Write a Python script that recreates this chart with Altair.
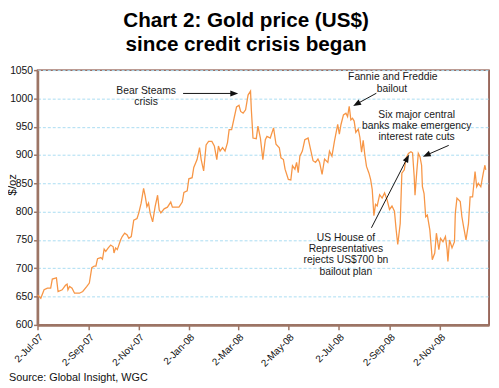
import altair as alt
import pandas as pd

# ---- data ----
dates = [
    "2007-07-02", "2007-07-06", "2007-07-10", "2007-07-14", "2007-07-18", "2007-07-20", "2007-07-25", "2007-07-27",
    "2007-08-01", "2007-08-05", "2007-08-07", "2007-08-08", "2007-08-10", "2007-08-13", "2007-08-16", "2007-08-22",
    "2007-08-26", "2007-08-31", "2007-09-03", "2007-09-06", "2007-09-09", "2007-09-11", "2007-09-13", "2007-09-17",
    "2007-09-19", "2007-09-21", "2007-09-23", "2007-09-26", "2007-09-29", "2007-10-02", "2007-10-03", "2007-10-05",
    "2007-10-07", "2007-10-11", "2007-10-13", "2007-10-16", "2007-10-19", "2007-10-21", "2007-10-24", "2007-10-27",
    "2007-10-31", "2007-11-02", "2007-11-05", "2007-11-08", "2007-11-10", "2007-11-12", "2007-11-14", "2007-11-16",
    "2007-11-19", "2007-11-22", "2007-11-25", "2007-11-27", "2007-11-29", "2007-12-03", "2007-12-07", "2007-12-11",
    "2007-12-13", "2007-12-17", "2007-12-21", "2007-12-25", "2007-12-27", "2007-12-31", "2008-01-02", "2008-01-06",
    "2008-01-08", "2008-01-12", "2008-01-15", "2008-01-17", "2008-01-20", "2008-01-23", "2008-01-26", "2008-01-30",
    "2008-02-02", "2008-02-05", "2008-02-07", "2008-02-09", "2008-02-12", "2008-02-15", "2008-02-18", "2008-02-20",
    "2008-02-23", "2008-02-26", "2008-02-29", "2008-03-03", "2008-03-05", "2008-03-08", "2008-03-11", "2008-03-14",
    "2008-03-17", "2008-03-18", "2008-03-20", "2008-03-24", "2008-03-26", "2008-03-29", "2008-04-01", "2008-04-04",
    "2008-04-06", "2008-04-10", "2008-04-14", "2008-04-17", "2008-04-21", "2008-04-23", "2008-04-26", "2008-04-28",
    "2008-05-02", "2008-05-05", "2008-05-07", "2008-05-10", "2008-05-12", "2008-05-14", "2008-05-16", "2008-05-19",
    "2008-05-22", "2008-05-26", "2008-05-29", "2008-06-01", "2008-06-04", "2008-06-07", "2008-06-09", "2008-06-12",
    "2008-06-15", "2008-06-19", "2008-06-21", "2008-06-24", "2008-06-27", "2008-07-01", "2008-07-03", "2008-07-05",
    "2008-07-08", "2008-07-11", "2008-07-13", "2008-07-15", "2008-07-17", "2008-07-19", "2008-07-21", "2008-07-23",
    "2008-07-26", "2008-07-28", "2008-07-30", "2008-08-01", "2008-08-03", "2008-08-05", "2008-08-08", "2008-08-10",
    "2008-08-12", "2008-08-14", "2008-08-16", "2008-08-18", "2008-08-21", "2008-08-24", "2008-08-27", "2008-08-30",
    "2008-09-02", "2008-09-05", "2008-09-08", "2008-09-10", "2008-09-12", "2008-09-15", "2008-09-17", "2008-09-20",
    "2008-09-22", "2008-09-25", "2008-09-28", "2008-09-30", "2008-10-02", "2008-10-03", "2008-10-05", "2008-10-07",
    "2008-10-09", "2008-10-11", "2008-10-12", "2008-10-14", "2008-10-16", "2008-10-18", "2008-10-21", "2008-10-24",
    "2008-10-27", "2008-10-29", "2008-11-01", "2008-11-03", "2008-11-06", "2008-11-09", "2008-11-11", "2008-11-12",
    "2008-11-14", "2008-11-17", "2008-11-20", "2008-11-21", "2008-11-23", "2008-11-27", "2008-11-29", "2008-12-01",
    "2008-12-04", "2008-12-07", "2008-12-09", "2008-12-12", "2008-12-15", "2008-12-17", "2008-12-19", "2008-12-22",
    "2008-12-25", "2008-12-27", "2008-12-28",
]
prices = [
    653, 647, 662, 665, 665, 681, 683, 659,
    662, 670, 672, 662, 668, 665, 656, 656,
    659, 668, 674, 701, 704, 704, 717, 719,
    716, 734, 730, 736, 741, 738, 727, 736,
    733, 750, 756, 762, 759, 753, 756, 785,
    788, 797, 815, 841, 827, 809, 815, 797,
    782, 809, 829, 803, 798, 805, 808, 817,
    808, 808, 808, 817, 834, 837, 858, 860,
    878, 892, 913, 892, 872, 918, 924, 924,
    916, 892, 916, 907, 913, 907, 922, 945,
    945, 965, 985, 988, 977, 974, 980, 1006,
    1013, 980, 930, 929, 951, 930, 892, 927,
    933, 930, 948, 919, 913, 895, 892, 875,
    857, 856, 881, 875, 887, 869, 898, 907,
    927, 930, 910, 890, 887, 893, 887, 866,
    893, 887, 907, 898, 924, 954, 937, 954,
    971, 974, 968, 986, 962, 965, 960, 940,
    946, 931, 905, 926, 900, 880, 868, 857,
    839, 793, 813, 810, 830, 824, 833, 821,
    804, 810, 801, 769, 742, 779, 868, 874,
    894, 903, 906, 904, 862, 829, 868, 903,
    897, 882, 844, 832, 791, 794, 768, 715,
    727, 762, 733, 753, 747, 756, 733, 712,
    750, 736, 747, 797, 824, 818, 791, 774,
    750, 779, 826, 826, 871, 844, 850, 844,
    868, 882, 874,
]

y_ticks = [600, 650, 700, 750, 800, 850, 900, 950, 1000, 1050]
x_tick_dates = [(2007, 7), (2007, 9), (2007, 11), (2008, 1), (2008, 3), (2008, 5), (2008, 7), (2008, 9), (2008, 11)]

title_lines = ["Chart 2: Gold price (US$)", "since credit crisis began"]
source_text = "Source: Global Insight, WGC"
y_title = "$/oz"

# annotation texts (one row per line) anchored in data space
note_text = ["Bear Steams", "crisis",
             "Fannie and Freddie", "bailout",
             "Six major central", "banks make emergency", "interest rate cuts",
             "US House of", "Representatives", "rejects US$700 bn", "bailout plan"]
note_date = ["2007-11-11", "2007-11-11",
             "2008-09-06", "2008-09-05",
             "2008-10-05", "2008-10-05", "2008-10-05",
             "2008-07-11", "2008-07-11", "2008-07-11", "2008-07-11"]
note_val = [1008.3, 988.3,
            1031.8, 1011.8,
            965.7, 945.8, 925.8,
            748.6, 728.6, 708.6, 688.6]

# arrows: start -> head
arr_d0 = ["2007-12-26", "2008-08-17", "2008-11-13", "2008-08-11"]
arr_v0 = [1008.8, 1009.2, 917.1, 771.5]
arr_d1 = ["2008-02-25", "2008-07-25", "2008-10-18", "2008-09-23"]
arr_v1 = [1008.8, 990.9, 900.6, 893.0]
arr_ang = [90, 240, 246, 27]

# ---- tables ----
df = pd.DataFrame({"date": pd.to_datetime(dates), "price": prices})
notes = pd.DataFrame({"text": note_text, "date": pd.to_datetime(note_date), "price": note_val})
arrows = pd.DataFrame({"date": pd.to_datetime(arr_d0), "price": arr_v0,
                       "date2": pd.to_datetime(arr_d1), "price2": arr_v1, "ang": arr_ang})
heads_df = pd.DataFrame({"date": pd.to_datetime(arr_d1), "price": arr_v1, "ang": arr_ang})

FONT = "Liberation Sans"
AXIS_COL = "#9c7565"

x_scale = alt.Scale(domain=[alt.DateTime(year=2007, month=7, date=2),
                            alt.DateTime(year=2009, month=1, date=1)], nice=False)
y_scale = alt.Scale(domain=[600, 1050], nice=False, zero=False)

x_axis = alt.Axis(
    values=[alt.DateTime(year=y, month=m, date=2) for y, m in x_tick_dates],
    format="%-d-%b-%y", labelAngle=315, labelAlign="right", labelBaseline="top",
    labelFontSize=10, labelFont=FONT, labelColor="#111", labelPadding=2,
    labelFlush=False, labelOverlap=False, labelBound=False,
    tickSize=5, tickColor=AXIS_COL, tickWidth=1.5,
    domainColor=AXIS_COL, domainWidth=2.5, grid=False, title=None,
)
y_axis = alt.Axis(
    values=y_ticks, tickCount=10, format="d", grid=True, gridColor="#a9dcf2", gridDash=[3, 2], gridWidth=1,
    tickSize=4, tickColor=AXIS_COL, tickWidth=1.5, labelPadding=1,
    labelFontSize=10.5, labelFont=FONT, labelColor="#111",
    labelOverlap=False, labelFlush=False, labelBound=False,
    domainColor=AXIS_COL, domainWidth=2.5, title=None,
)


def X():
    return alt.X("date:T", scale=x_scale, axis=x_axis)


def Y():
    return alt.Y("price:Q", scale=y_scale, axis=y_axis)


line = alt.Chart(df).mark_line(color="#f79646", strokeWidth=1.3).encode(x=X(), y=Y())

note_layer = alt.Chart(notes).mark_text(
    font=FONT, fontSize=10.5, color="#1a1a1a", align="center", baseline="alphabetic"
).encode(x=X(), y=Y(), text="text:N")

rules = alt.Chart(arrows).mark_rule(color="#111", strokeWidth=1).encode(
    x=X(), y=Y(), x2="date2:T", y2="price2:Q")

heads = alt.Chart(heads_df).mark_point(
    shape="M0,-1L0.6,0.6L-0.6,0.6Z", filled=True, size=100, color="#111", opacity=1
).encode(x=X(), y=Y(), angle=alt.Angle("ang:Q", scale=None))

t1 = alt.Chart(pd.DataFrame({"t": [title_lines[0]]})).mark_text(
    font=FONT, fontSize=21, fontWeight="bold", color="#000", align="center", baseline="alphabetic"
).encode(x=alt.value(212), y=alt.value(-43.5), text="t:N")
t2 = alt.Chart(pd.DataFrame({"t": [title_lines[1]]})).mark_text(
    font=FONT, fontSize=21, fontWeight="bold", color="#000", align="center", baseline="alphabetic"
).encode(x=alt.value(212), y=alt.value(-19.5), text="t:N")

src = alt.Chart(pd.DataFrame({"t": [source_text]})).mark_text(
    font=FONT, fontSize=11, color="#111", align="left", baseline="alphabetic"
).encode(x=alt.value(-29), y=alt.value(316.5), text="t:N")

ytitle = alt.Chart(pd.DataFrame({"t": [y_title]})).mark_text(
    font=FONT, fontSize=11.5, color="#111", align="center", baseline="alphabetic", angle=270
).encode(x=alt.value(-21.7), y=alt.value(116.5), text="t:N")

chart = alt.layer(line, rules, heads, note_layer, t1, t2, src, ytitle).properties(
    width=459, height=259,
    autosize=alt.AutoSizeParams(type="none"),
    padding={"left": 30, "top": 60, "right": 2, "bottom": 62},
    background="white",
).configure_view(stroke="#7b3b2b", strokeWidth=1.5)

chart.save("out.html", embed_options={"renderer": "svg", "actions": False})
